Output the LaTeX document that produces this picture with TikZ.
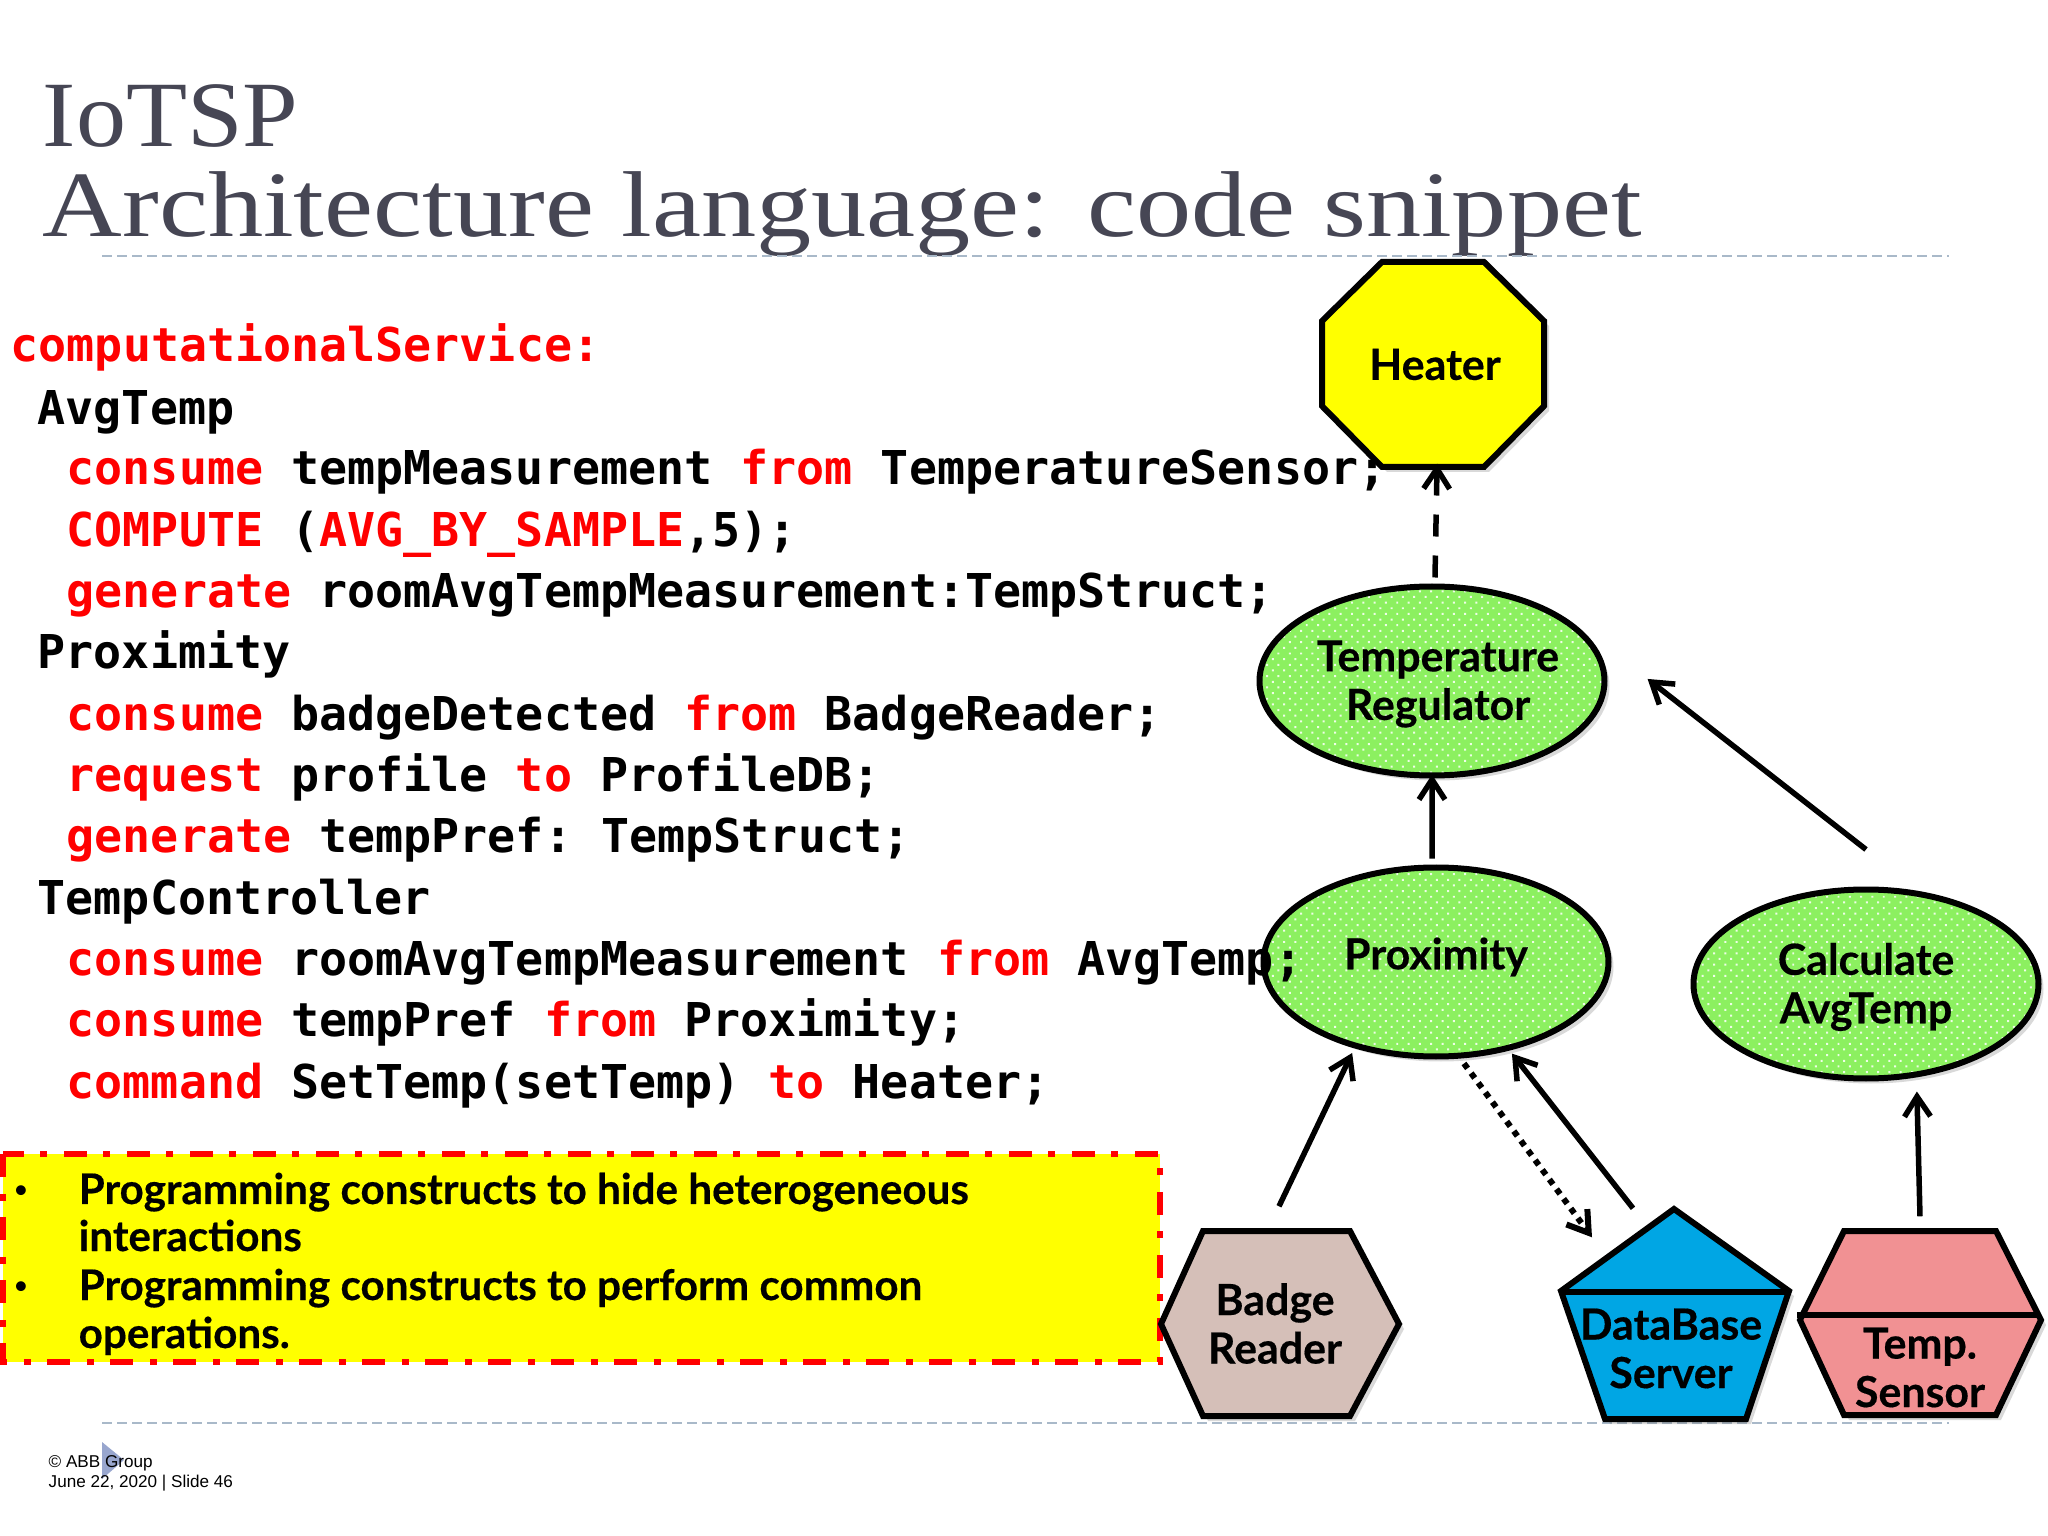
\documentclass[tikz,border=0pt]{standalone}
\usepackage{fontspec}
\usetikzlibrary{arrows.meta,shadows,patterns.meta,shapes.geometric}
\setmainfont[BoldFeatures={FakeBold=0.4}]{Lato}
\newfontfamily\titlefont[FakeStretch=1.07]{Liberation Serif}
\newfontfamily\titlewide[FakeStretch=1.18]{Liberation Serif}
\newfontfamily\codefont{DejaVu Sans Mono}
\newfontfamily\footfont{Liberation Sans}
\definecolor{titlegray}{HTML}{464654}
\definecolor{rulegray}{HTML}{A9B9C9}
\definecolor{procgreen}{HTML}{8CF060}
\definecolor{badgeroze}{HTML}{D5BFB8}
\definecolor{dbblue}{HTML}{00A6E4}
\definecolor{sensorpink}{HTML}{F19193}
\definecolor{pureyellow}{HTML}{FFFF00}
\definecolor{purered}{HTML}{FF0000}
\newcommand{\kw}[1]{\textcolor{purered}{#1}}
\tikzset{
	>={Straight Barb[length=0.2cm,width=0.26cm]},
	flow/.style={->,line width=0.055cm,shorten >=-0.05cm},
	outline/.style={draw=black,line width=0.06cm,line join=miter,drop shadow={shadow xshift=0.05cm,shadow yshift=-0.05cm,opacity=0.3}},
	proc/.style={ellipse,outline,preaction={fill=procgreen},pattern={Dots[angle=45,distance=0.08cm,radius=0.014cm]},pattern color=white!85!procgreen,
		minimum width=3.45cm,minimum height=1.89cm,inner sep=0},
	lbl/.style={font=\bfseries\fontsize{12.2pt}{13.8pt}\selectfont,align=center,inner sep=0},
	code/.style={anchor=base west,inner sep=0,font=\codefont\bfseries\fontsize{13.27pt}{15pt}\selectfont},
	point/.style={anchor=base west,inner sep=0,font=\bfseries\fontsize{12pt}{13.6pt}\selectfont},
	rulerow/.style={rulegray,line width=0.025cm,dash pattern=on 0.10cm off 0.05cm}
}
\begin{document}
\begin{tikzpicture}[x=1cm,y=-1cm]
	\useasboundingbox (0,0) rectangle (20.48,15.36);
	\node[anchor=base west,inner sep=0,text=titlegray,font=\titlefont\fontsize{26.6pt}{30pt}\selectfont] (title1) at (0.42,1.47) {IoTSP};
	\node[anchor=base west,inner sep=0,text=titlegray,font=\titlewide\fontsize{26.6pt}{30pt}\selectfont] (title2) at (0.42,2.37) {Architecture language: code snippet};
	\coordinate (ruleA) at (1.02,2.56); \coordinate (ruleB) at (19.49,2.56);
	\coordinate (ruleC) at (1.02,14.23); \coordinate (ruleD) at (19.49,14.23);
	\draw[rulerow] (ruleA)--(ruleB);
	\draw[rulerow] (ruleC)--(ruleD);
	\fill[fill=rulegray!90!blue] (1.02,14.42)--(1.24,14.60)--(1.02,14.79)--cycle;
	\node[anchor=base west,inner sep=0,font=\footfont\fontsize{4.87pt}{5pt}\selectfont] (foot1) at (0.48,14.67) {© ABB Group};
	\node[anchor=base west,inner sep=0,font=\footfont\fontsize{4.87pt}{5pt}\selectfont] (foot2) at (0.48,14.87) {June 22, 2020 | Slide 46};
	\filldraw[fill=pureyellow,draw=purered,line width=0.06cm,dash pattern=on 0.23cm off 0.17cm on 0.07cm off 0.16cm] (0.03,11.54) rectangle (11.60,13.62);
	\node[anchor=base,inner sep=0,font=\fontsize{7.5pt}{9pt}\selectfont] (dot1) at (0.21,11.98) {•};
	\node[anchor=base,inner sep=0,font=\fontsize{7.5pt}{9pt}\selectfont] (dot2) at (0.21,12.94) {•};
	\node[point] (point1) at (0.78,12.04) {Programming constructs to hide heterogeneous};
	\node[point] (point2) at (0.78,12.51) {interactions};
	\node[point] (point3) at (0.78,13.00) {Programming constructs to perform common};
	\node[point] (point4) at (0.78,13.48) {operations.};
	% heater
	\filldraw[outline,fill=pureyellow] (13.82,2.62)--(14.84,2.62)--(15.44,3.21)--(15.44,4.06)--(14.84,4.67)--(13.82,4.67)--(13.22,4.06)--(13.22,3.21)--cycle;
	\node[lbl,minimum width=2.22cm,minimum height=2.05cm] (heater) at (14.35,3.645) {Heater};
	% ellipses
	\node[proc] (regulator) at (14.32,6.81) {};
	\node[lbl] (regulatortxt) at (14.38,6.84) {Temperature\\Regulator};
	\node[proc] (prox) at (14.36,9.62) {};
	\node[lbl] (proxtxt) at (14.36,9.57) {Proximity};
	\node[proc] (calc) at (18.66,9.84) {};
	\node[lbl] (calctxt) at (18.66,9.87) {Calculate\\AvgTemp};
	% badge reader
	\filldraw[outline,fill=badgeroze] (12.03,12.31)--(13.50,12.31)--(13.99,13.24)--(13.50,14.16)--(12.03,14.16)--(11.61,13.24)--cycle;
	\node[lbl,minimum width=2.38cm,minimum height=1.85cm] (badge) at (12.75,13.235) {Badge\\Reader};
	% database
	\filldraw[outline,fill=dbblue] (16.74,12.09)--(17.89,12.91)--(17.46,14.19)--(16.05,14.19)--(15.61,12.91)--cycle;
	\draw[line width=0.06cm] (15.61,12.92)--(17.89,12.92);
	\node[lbl,minimum width=2.28cm,minimum height=2.1cm] (db) at (16.74,13.14) {};
	\node[lbl] (dbtxt) at (16.71,13.485) {DataBase\\Server};
	% temp sensor
	\filldraw[outline,fill=sensorpink] (18.44,12.31)--(19.96,12.31)--(20.41,13.20)--(19.96,14.15)--(18.44,14.15)--(18.00,13.20)--cycle;
	\draw[line width=0.06cm] (17.97,13.15)--(20.38,13.15);
	\node[lbl,minimum width=2.41cm,minimum height=1.84cm] (sensor) at (19.20,13.23) {};
	\node[lbl] (sensortxt) at (19.20,13.675) {Temp.\\Sensor};
	% connectors
	\draw[flow,dash pattern=on 0.22cm off 0.19cm] ([xshift=0.03cm,yshift=0.06cm]regulator.north) -- ([xshift=0.02cm,yshift=-0.01cm]heater.south);
	\draw[flow] ([xshift=-0.04cm,yshift=0.06cm]prox.north) -- ([yshift=-0.01cm]regulator.south);
	\draw[flow] ([yshift=0.37cm]calc.north) -- ([xshift=0.44cm,yshift=-0.01cm]regulator.east);
	\draw[flow] ([xshift=0.04cm,yshift=0.24cm]badge.north) -- ([xshift=-0.86cm,yshift=0.02cm]prox.south);
	\draw[flow] ([xshift=-0.41cm]db.north) -- ([xshift=0.79cm,yshift=0.02cm]prox.south);
	\draw[->,line width=0.06cm,dash pattern=on 0.06cm off 0.06cm] ([xshift=0.28cm,yshift=-0.04cm]prox.south) -- ([xshift=-0.82cm,yshift=-0.29cm]db.north);
	\draw[flow] ([yshift=0.14cm]sensor.north) -- ([xshift=0.51cm,yshift=-0.15cm]calc.south);
	% code
	\node[code] (line1) at (0.10,3.62) {\kw{computationalService:}};
	\node[code] (line2) at (0.37,4.24) {AvgTemp};
	\node[code] (line3) at (0.66,4.85) {\kw{consume} tempMeasurement \kw{from} TemperatureSensor;};
	\node[code] (line4) at (0.66,5.465) {\kw{COMPUTE} (\kw{AVG\_BY\_SAMPLE},5);};
	\node[code] (line5) at (0.66,6.075) {\kw{generate} roomAvgTempMeasurement:TempStruct;};
	\node[code] (line6) at (0.37,6.69) {Proximity};
	\node[code] (line7) at (0.66,7.305) {\kw{consume} badgeDetected \kw{from} BadgeReader;};
	\node[code] (line8) at (0.66,7.915) {\kw{request} profile \kw{to} ProfileDB;};
	\node[code] (line9) at (0.66,8.53) {\kw{generate} tempPref:\kern-0.08cm{} TempStruct;};
	\node[code] (line10) at (0.37,9.14) {TempController};
	\node[code] (line11) at (0.66,9.755) {\kw{consume} roomAvgTempMeasurement \kw{from} AvgTemp;};
	\node[code] (line12) at (0.66,10.37) {\kw{consume} tempPref \kw{from} Proximity;};
	\node[code] (line13) at (0.66,10.98) {\kw{command} SetTemp(setTemp) \kw{to} Heater;};
\end{tikzpicture}
\end{document}
